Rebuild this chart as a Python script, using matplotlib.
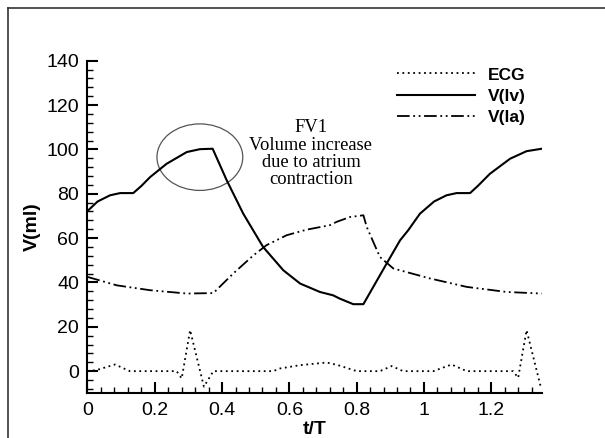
import matplotlib
matplotlib.use("Agg")
import matplotlib.pyplot as plt
from matplotlib.lines import Line2D
from matplotlib.patches import Ellipse
from matplotlib.ticker import MultipleLocator

plt.rcParams['font.family'] = ['Liberation Sans', 'DejaVu Sans']

# Normalised time t/T and volumes (ml)
t_lv = [0.0, 0.03, 0.067, 0.097, 0.136, 0.16, 0.186, 0.235, 0.295, 0.334, 0.372,
        0.414, 0.463, 0.522, 0.582, 0.632, 0.691, 0.73, 0.75, 0.79, 0.82,
        0.889, 0.929, 0.953, 0.988, 1.03, 1.067, 1.097, 1.137, 1.16, 1.196,
        1.256, 1.305, 1.35]
v_lv = [72.2, 76.5, 79.3, 80.3, 80.3, 83.5, 87.5, 93.5, 98.8, 100.1, 100.3,
        86.0, 71.0, 56.0, 45.5, 39.5, 35.7, 34.2, 32.7, 30.2, 30.2,
        48.5, 59.0, 63.5, 71.0, 76.5, 79.3, 80.3, 80.3, 83.5, 89.0,
        95.8, 99.2, 100.3]

t_la = [0.0, 0.087, 0.186, 0.295, 0.374, 0.433, 0.493, 0.532, 0.592, 0.651,
        0.72, 0.74, 0.78, 0.82, 0.83, 0.869, 0.909, 1.018, 1.127, 1.246, 1.35]
v_la = [42.5, 38.7, 36.5, 35.0, 35.2, 44.0, 52.2, 56.8, 61.3, 63.8,
        65.8, 67.3, 69.5, 70.3, 65.0, 51.5, 46.3, 41.8, 38.0, 35.7, 35.0]

t_ecg = [0.0, 0.027, 0.082, 0.126, 0.265, 0.28, 0.305, 0.346, 0.374, 0.552,
         0.572, 0.632, 0.711, 0.745, 0.8, 0.869, 0.904, 0.938, 1.028, 1.082,
         1.127, 1.265, 1.28, 1.305, 1.347]
v_ecg = [0.0, 0.5, 3.0, 0.0, 0.0, -3.3, 18.5, -7.0, 0.0, 0.0,
         1.2, 2.7, 3.9, 2.7, 0.0, 0.0, 2.3, 0.0, 0.0, 3.0,
         0.0, 0.0, -3.0, 18.5, -7.0]

fig = plt.figure(figsize=(6.05, 4.38), dpi=100)
ax = fig.add_axes([0.1446, 0.102, 0.7508, 0.7594])

ax.plot(t_ecg, v_ecg, color='black', lw=1.3, linestyle=(0, (1, 2)), label='ECG')
ax.plot(t_lv, v_lv, color='black', lw=1.5, linestyle='-', label='V(lv)')
ax.plot(t_la, v_la, color='black', lw=1.3, linestyle=(0, (7, 2, 1, 2, 1, 2)), label='V(la)')

ax.set_xlim(0, 1.35)
ax.set_ylim(-10, 140)
ax.spines['top'].set_visible(False)
ax.spines['right'].set_visible(False)
for s in ('left', 'bottom'):
    ax.spines[s].set_linewidth(1.5)

ax.xaxis.set_major_locator(MultipleLocator(0.2))
ax.xaxis.set_minor_locator(MultipleLocator(0.04))
ax.yaxis.set_major_locator(MultipleLocator(20))
ax.yaxis.set_minor_locator(MultipleLocator(4))
ax.tick_params(which='both', direction='in', labelsize=14, width=1.0)
ax.tick_params(which='major', length=8, width=1.5, pad=6)
ax.tick_params(which='minor', length=4)
ax.set_xticks([0, 0.2, 0.4, 0.6, 0.8, 1.0, 1.2])
ax.set_xticklabels(['0', '0.2', '0.4', '0.6', '0.8', '1', '1.2'])

ax.set_xlabel('t/T', fontsize=14, fontweight='bold', labelpad=2)
ax.set_ylabel('V(ml)', fontsize=14, fontweight='bold', labelpad=4)

ax.legend(loc='upper left', bbox_to_anchor=(0.646, 1.027), frameon=False,
          handlelength=4.5, handletextpad=0.75,
          labelspacing=0.36, prop={'weight': 'bold', 'size': 12.5})

ax.add_patch(Ellipse((0.334, 96.5), 0.255, 30, fill=False,
                     edgecolor='#555555', lw=0.9))
ax.text(0.664, 98.0, 'FV1\nVolume increase\ndue to atrium\ncontraction',
        ha='center', va='center', fontsize=13.3, family='Liberation Serif',
        linespacing=1.02)

# Partial frame along the top and left edges of the figure
fig.add_artist(Line2D([8 / 605, 8 / 605], [0, 1 - 8 / 438], transform=fig.transFigure,
                      color='#333333', lw=1.2))
fig.add_artist(Line2D([8 / 605, 1], [1 - 8 / 438, 1 - 8 / 438], transform=fig.transFigure,
                      color='#333333', lw=1.2))

fig.savefig('out.png', dpi=100)
